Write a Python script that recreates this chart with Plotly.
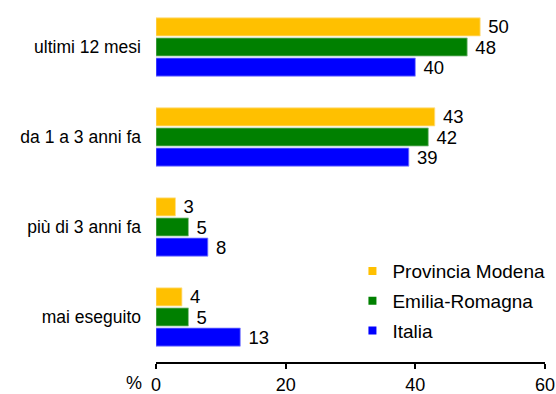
import plotly.graph_objects as go

categories = ["ultimi 12 mesi", "da 1 a 3 anni fa", "più di 3 anni fa", "mai eseguito"]
series_names = ["Provincia Modena", "Emilia-Romagna", "Italia"]
modena = [50, 43, 3, 4]
emilia = [48, 42, 5, 5]
italia = [40, 39, 8, 13]
colors = ["#FFC000", "#008000", "#0000FF"]
edge_colors = ["#FFE08A", "#8CC08C", "#8C8CFF"]
x_ticks = [0, 20, 40, 60]

font_family = "Liberation Sans, Arial, sans-serif"

fig = go.Figure()
for name, vals, col, edge in zip(series_names, [modena, emilia, italia], colors, edge_colors):
    fig.add_trace(go.Bar(
        y=categories, x=vals, name=name, orientation="h",
        marker=dict(color=col, line=dict(color=edge, width=0.8)),
        text=[" " + str(v) for v in vals], textposition="outside",
        textfont=dict(size=18.5, color="#000000", family=font_family),
        cliponaxis=False, showlegend=False,
    ))

# legend entries with small square swatches
for i, (name, col) in enumerate(zip(series_names, colors)):
    fig.add_trace(go.Scatter(
        x=[None], y=[None], mode="markers", name=name, legendgroup=f"g{i}",
        marker=dict(symbol="square", size=8, color=col),
    ))

fig.update_layout(
    width=556, height=394,
    margin=dict(l=156, r=11, t=2, b=32),
    paper_bgcolor="white", plot_bgcolor="white",
    barmode="group", bargap=0.33, bargroupgap=0.1,
    font=dict(family=font_family, size=18, color="#000000"),
    showlegend=True,
    legend=dict(x=0.505, y=0.305, xanchor="left", yanchor="top",
                font=dict(size=19), itemwidth=30, tracegroupgap=2,
                bgcolor="rgba(0,0,0,0)"),
    uniformtext=dict(minsize=18, mode="show"),
)
fig.update_xaxes(range=[0, 60], tickvals=x_ticks, ticks="outside", ticklen=5,
                 tickwidth=1.5, tickcolor="#000000", showline=True, linecolor="#000000",
                 linewidth=1.5, showgrid=False, zeroline=False,
                 tickfont=dict(size=18), ticklabelstandoff=1, automargin=False)
fig.update_yaxes(autorange="reversed", showgrid=False, showline=False, ticks="",
                 tickfont=dict(size=17.5), ticklabelstandoff=14, automargin=False)
fig.add_annotation(text="%", xref="paper", yref="paper", x=-0.03, y=0, yshift=-21,
                   xanchor="right", yanchor="middle", showarrow=False,
                   font=dict(size=18))

fig.write_html("out.html")
